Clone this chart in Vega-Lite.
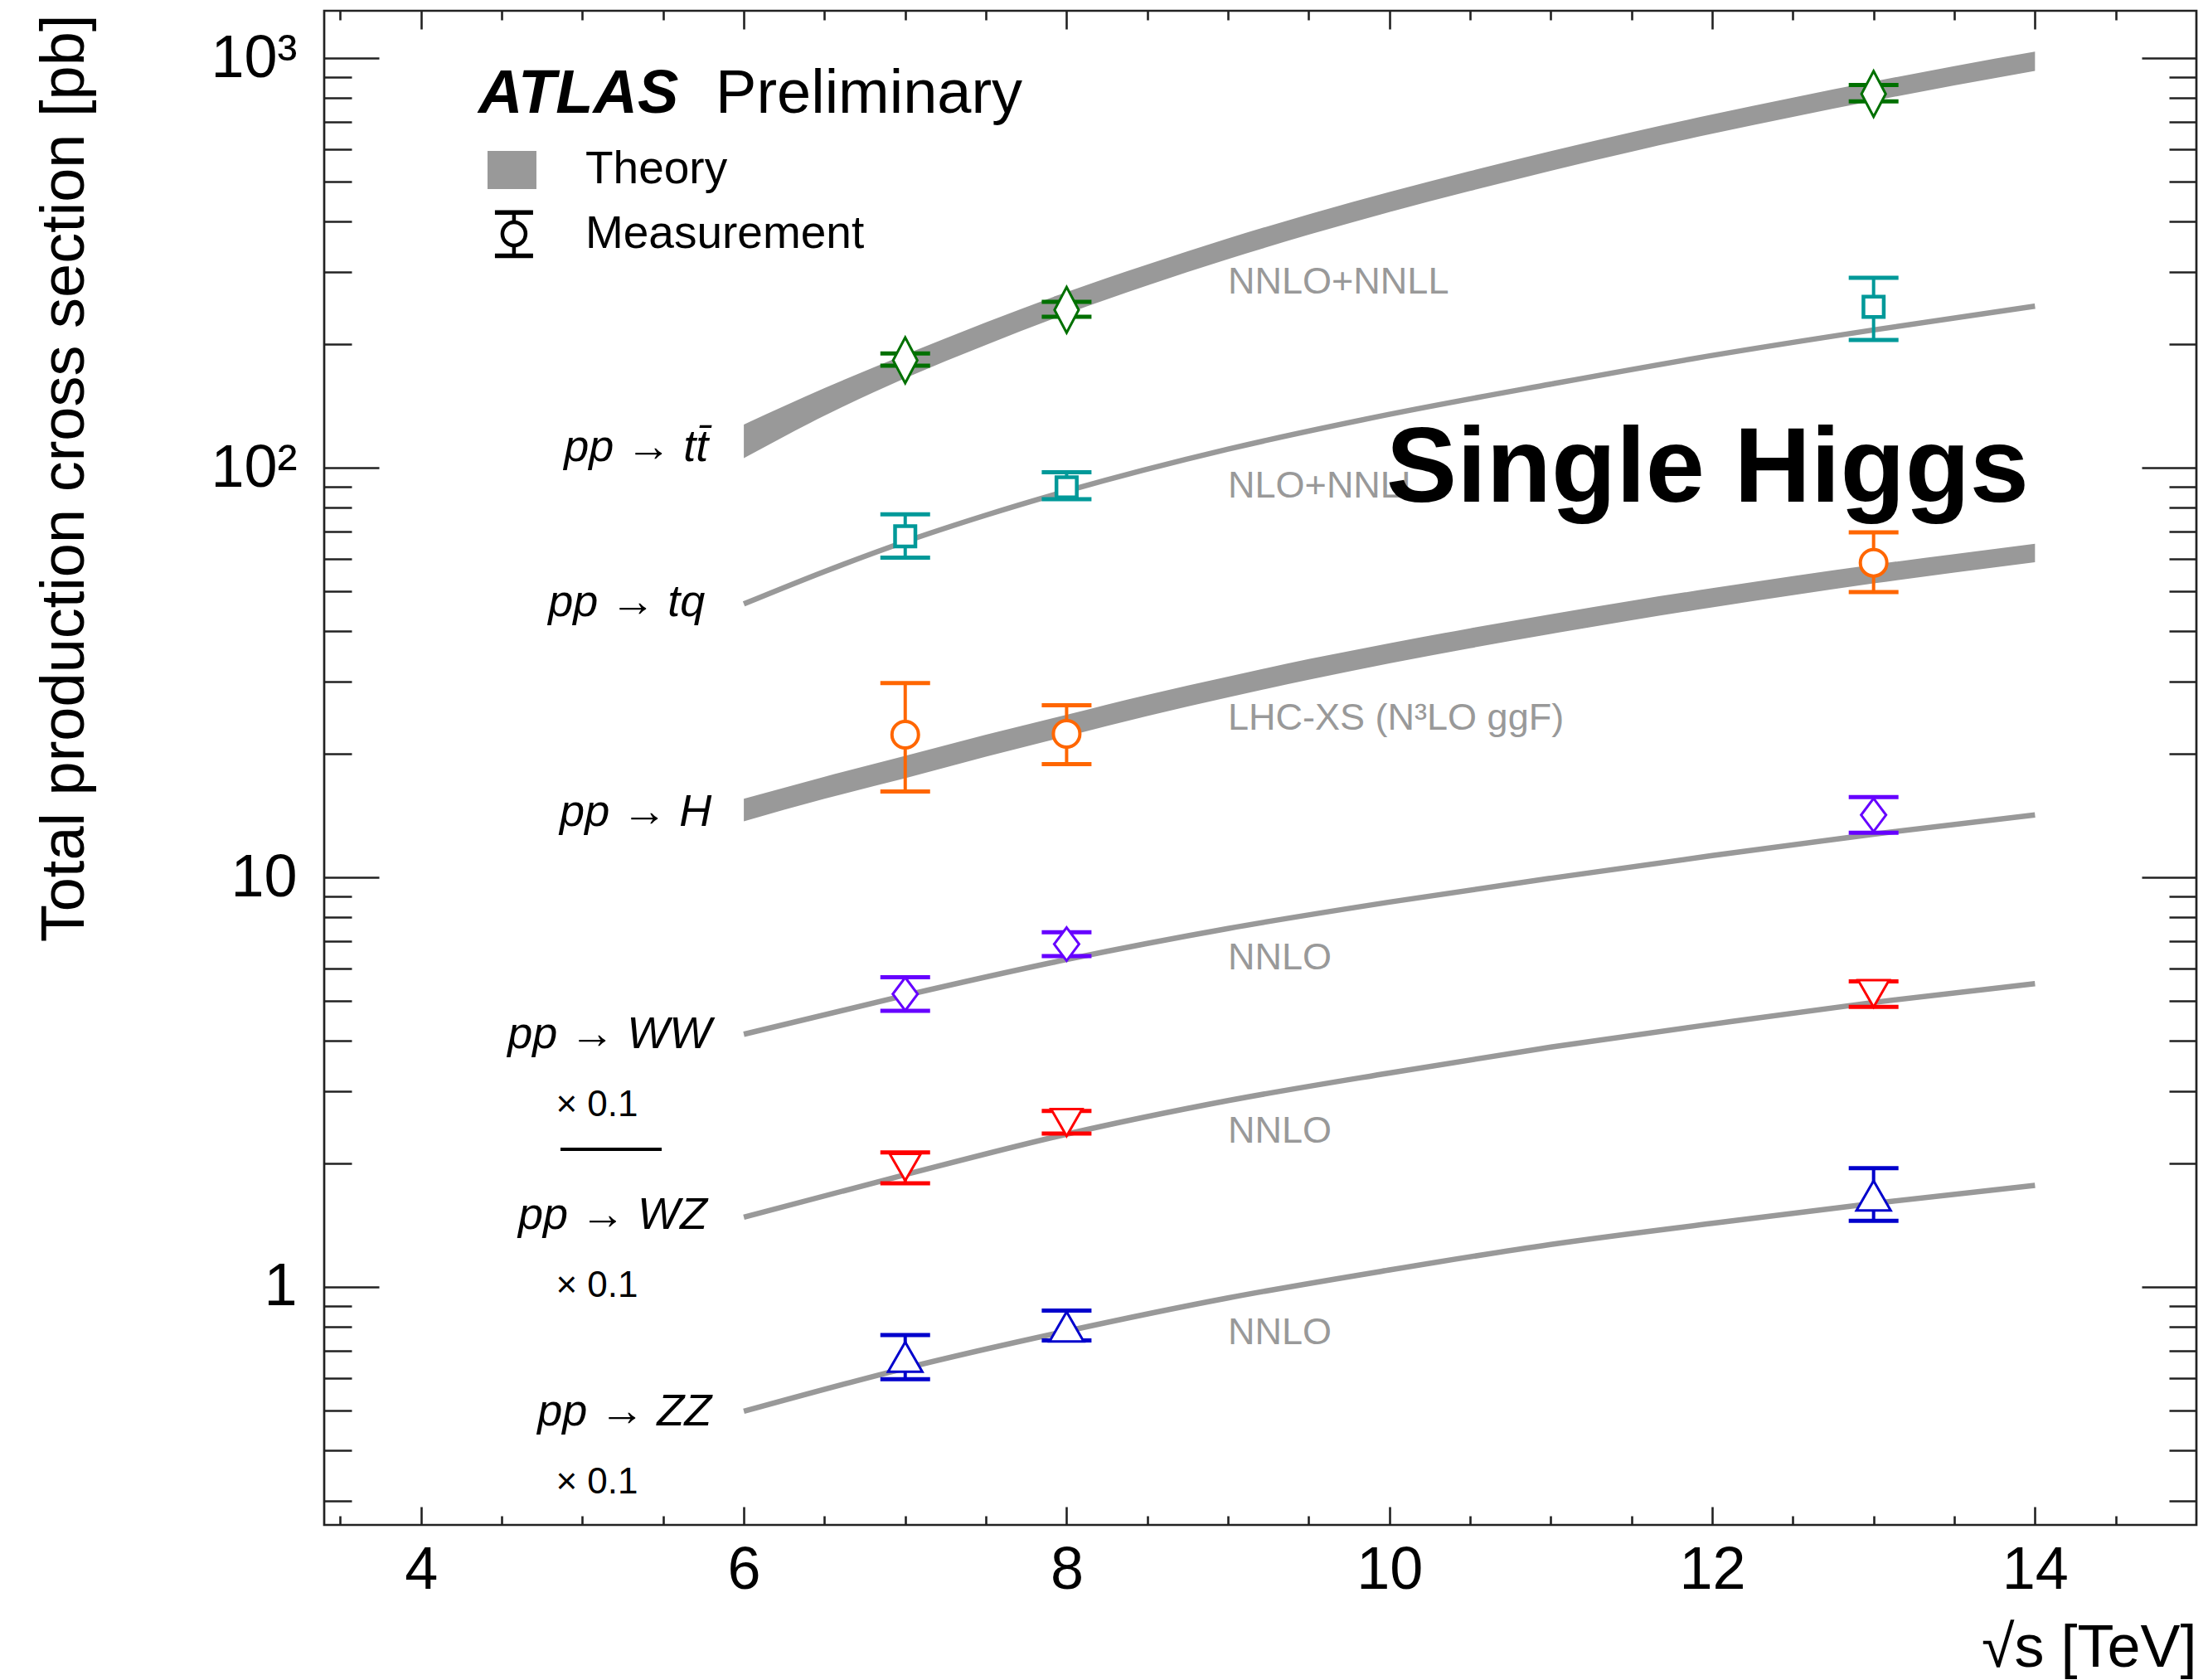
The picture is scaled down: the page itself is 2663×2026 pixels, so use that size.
{
  "$schema": "https://vega.github.io/schema/vega-lite/v6.json",
  "width": 2258,
  "height": 1826,
  "autosize": "none",
  "padding": {"left": 391, "top": 13, "right": 14, "bottom": 187},
  "background": "white",
  "config": {
    "font": "Liberation Sans",
    "view": {"stroke": "#222222", "strokeWidth": 2.7},
    "axis": {"grid": false, "domain": false, "tickColor": "#222222", "tickWidth": 2.6, "labelColor": "#000000", "titleColor": "#000000", "labelFont": "Liberation Sans", "titleFont": "Liberation Sans"}
  },
  "datasets": {
    "theory": [
      {"proc": "ttbar", "kind": "band", "x": 6, "y": 116, "lo": 105.5, "hi": 127.5},
      {"proc": "ttbar", "kind": "band", "x": 6.5, "y": 145, "lo": 134, "hi": 156.5},
      {"proc": "ttbar", "kind": "band", "x": 7, "y": 177, "lo": 165.5, "hi": 189},
      {"proc": "ttbar", "kind": "band", "x": 7.5, "y": 213, "lo": 199.5, "hi": 226.5},
      {"proc": "ttbar", "kind": "band", "x": 8, "y": 253, "lo": 237.5, "hi": 268.5},
      {"proc": "ttbar", "kind": "band", "x": 8.5, "y": 296, "lo": 278.5, "hi": 313.5},
      {"proc": "ttbar", "kind": "band", "x": 9, "y": 343, "lo": 323, "hi": 363},
      {"proc": "ttbar", "kind": "band", "x": 9.5, "y": 393, "lo": 370.5, "hi": 415.5},
      {"proc": "ttbar", "kind": "band", "x": 10, "y": 446, "lo": 421, "hi": 471},
      {"proc": "ttbar", "kind": "band", "x": 10.5, "y": 502, "lo": 474, "hi": 530},
      {"proc": "ttbar", "kind": "band", "x": 11, "y": 562, "lo": 531, "hi": 593},
      {"proc": "ttbar", "kind": "band", "x": 11.5, "y": 625, "lo": 591, "hi": 659},
      {"proc": "ttbar", "kind": "band", "x": 12, "y": 691, "lo": 653.5, "hi": 728.5},
      {"proc": "ttbar", "kind": "band", "x": 12.5, "y": 760, "lo": 719, "hi": 801},
      {"proc": "ttbar", "kind": "band", "x": 13, "y": 832, "lo": 787, "hi": 877},
      {"proc": "ttbar", "kind": "band", "x": 13.5, "y": 907, "lo": 858, "hi": 956},
      {"proc": "ttbar", "kind": "band", "x": 14, "y": 984, "lo": 931, "hi": 1037},
      {"proc": "H", "kind": "band", "x": 6, "y": 14.6, "lo": 13.7, "hi": 15.55},
      {"proc": "H", "kind": "band", "x": 6.5, "y": 16.55, "lo": 15.55, "hi": 17.6},
      {"proc": "H", "kind": "band", "x": 7, "y": 18.6, "lo": 17.45, "hi": 19.8},
      {"proc": "H", "kind": "band", "x": 7.5, "y": 21.0, "lo": 19.7, "hi": 22.3},
      {"proc": "H", "kind": "band", "x": 8, "y": 23.5, "lo": 22.1, "hi": 24.95},
      {"proc": "H", "kind": "band", "x": 8.5, "y": 26.3, "lo": 24.75, "hi": 27.9},
      {"proc": "H", "kind": "band", "x": 9, "y": 29.2, "lo": 27.5, "hi": 30.9},
      {"proc": "H", "kind": "band", "x": 9.5, "y": 32.2, "lo": 30.35, "hi": 34.1},
      {"proc": "H", "kind": "band", "x": 10, "y": 35.3, "lo": 33.3, "hi": 37.3},
      {"proc": "H", "kind": "band", "x": 10.5, "y": 38.4, "lo": 36.25, "hi": 40.55},
      {"proc": "H", "kind": "band", "x": 11, "y": 41.6, "lo": 39.3, "hi": 43.9},
      {"proc": "H", "kind": "band", "x": 11.5, "y": 44.9, "lo": 42.45, "hi": 47.35},
      {"proc": "H", "kind": "band", "x": 12, "y": 48.2, "lo": 45.6, "hi": 50.8},
      {"proc": "H", "kind": "band", "x": 12.5, "y": 51.6, "lo": 48.85, "hi": 54.35},
      {"proc": "H", "kind": "band", "x": 13, "y": 55.1, "lo": 52.2, "hi": 58.0},
      {"proc": "H", "kind": "band", "x": 13.5, "y": 58.5, "lo": 55.45, "hi": 61.55},
      {"proc": "H", "kind": "band", "x": 14, "y": 62.0, "lo": 58.8, "hi": 65.2},
      {"proc": "tq", "kind": "line", "x": 6, "y": 46.5},
      {"proc": "tq", "kind": "line", "x": 6.5, "y": 55.8},
      {"proc": "tq", "kind": "line", "x": 7, "y": 66},
      {"proc": "tq", "kind": "line", "x": 7.5, "y": 76.6},
      {"proc": "tq", "kind": "line", "x": 8, "y": 87.7},
      {"proc": "tq", "kind": "line", "x": 9, "y": 111},
      {"proc": "tq", "kind": "line", "x": 10, "y": 135},
      {"proc": "tq", "kind": "line", "x": 11, "y": 160},
      {"proc": "tq", "kind": "line", "x": 12, "y": 188},
      {"proc": "tq", "kind": "line", "x": 13, "y": 217},
      {"proc": "tq", "kind": "line", "x": 14, "y": 248},
      {"proc": "WW", "kind": "line", "x": 6, "y": 4.14},
      {"proc": "WW", "kind": "line", "x": 7, "y": 5.15},
      {"proc": "WW", "kind": "line", "x": 8, "y": 6.3},
      {"proc": "WW", "kind": "line", "x": 9, "y": 7.5},
      {"proc": "WW", "kind": "line", "x": 10, "y": 8.7},
      {"proc": "WW", "kind": "line", "x": 11, "y": 9.95},
      {"proc": "WW", "kind": "line", "x": 12, "y": 11.3},
      {"proc": "WW", "kind": "line", "x": 13, "y": 12.75},
      {"proc": "WW", "kind": "line", "x": 14, "y": 14.2},
      {"proc": "WZ", "kind": "line", "x": 6, "y": 1.48},
      {"proc": "WZ", "kind": "line", "x": 7, "y": 1.88},
      {"proc": "WZ", "kind": "line", "x": 8, "y": 2.36},
      {"proc": "WZ", "kind": "line", "x": 9, "y": 2.85},
      {"proc": "WZ", "kind": "line", "x": 10, "y": 3.33},
      {"proc": "WZ", "kind": "line", "x": 11, "y": 3.85},
      {"proc": "WZ", "kind": "line", "x": 12, "y": 4.38},
      {"proc": "WZ", "kind": "line", "x": 13, "y": 4.95},
      {"proc": "WZ", "kind": "line", "x": 14, "y": 5.5},
      {"proc": "ZZ", "kind": "line", "x": 6, "y": 0.497},
      {"proc": "ZZ", "kind": "line", "x": 7, "y": 0.633},
      {"proc": "ZZ", "kind": "line", "x": 8, "y": 0.78},
      {"proc": "ZZ", "kind": "line", "x": 9, "y": 0.94},
      {"proc": "ZZ", "kind": "line", "x": 10, "y": 1.1},
      {"proc": "ZZ", "kind": "line", "x": 11, "y": 1.27},
      {"proc": "ZZ", "kind": "line", "x": 12, "y": 1.43},
      {"proc": "ZZ", "kind": "line", "x": 13, "y": 1.6},
      {"proc": "ZZ", "kind": "line", "x": 14, "y": 1.77}
    ],
    "meas": [
      {"proc": "ttbar", "x": 7, "y": 182.9, "lo": 177.5, "hi": 190},
      {"proc": "ttbar", "x": 8, "y": 242.9, "lo": 233.7, "hi": 254},
      {"proc": "ttbar", "x": 13, "y": 818, "lo": 784, "hi": 860},
      {"proc": "tq", "x": 7, "y": 68, "lo": 60.3, "hi": 77},
      {"proc": "tq", "x": 8, "y": 89.6, "lo": 83.8, "hi": 97.5},
      {"proc": "tq", "x": 13, "y": 247, "lo": 205, "hi": 291},
      {"proc": "H", "x": 7, "y": 22.3, "lo": 16.2, "hi": 29.8},
      {"proc": "H", "x": 8, "y": 22.4, "lo": 18.9, "hi": 26.3},
      {"proc": "H", "x": 13, "y": 58.6, "lo": 49.7, "hi": 69.5},
      {"proc": "WW", "x": 7, "y": 5.19, "lo": 4.72, "hi": 5.7},
      {"proc": "WW", "x": 8, "y": 6.87, "lo": 6.42, "hi": 7.34},
      {"proc": "WW", "x": 13, "y": 14.2, "lo": 12.85, "hi": 15.7},
      {"proc": "WZ", "x": 7, "y": 1.96, "lo": 1.79, "hi": 2.13},
      {"proc": "WZ", "x": 8, "y": 2.52, "lo": 2.37, "hi": 2.69},
      {"proc": "WZ", "x": 13, "y": 5.2, "lo": 4.83, "hi": 5.57},
      {"proc": "ZZ", "x": 7, "y": 0.675, "lo": 0.595, "hi": 0.763},
      {"proc": "ZZ", "x": 8, "y": 0.8, "lo": 0.74, "hi": 0.876},
      {"proc": "ZZ", "x": 13, "y": 1.67, "lo": 1.45, "hi": 1.95}
    ]
  },
  "resolve": {"axis": {"x": "independent", "y": "independent"}},
  "layer": [
    {
      "data": {"name": "theory"},
      "transform": [{"filter": "datum.kind === 'band'"}],
      "mark": {"type": "area", "color": "#999999", "opacity": 1, "interpolate": "monotone"},
      "encoding": {
        "x": {"field": "x", "type": "quantitative", "scale": {"domain": [3.4, 15], "nice": false, "zero": false},
          "axis": {"orient": "bottom", "values": [4, 6, 8, 10, 12, 14], "ticks": false, "labels": true, "labelFontSize": 72, "labelPadding": 19, "labelBaseline": "top", "labelFlush": false, "labelOverlap": false, "format": "d",
            "title": "√s [TeV]", "titleFontSize": 72, "titleFontWeight": "normal", "titleAlign": "right", "titleAnchor": "end", "titleBaseline": "alphabetic", "titleX": 2258, "titleY": 170}},
        "y": {"field": "lo", "type": "quantitative", "scale": {"type": "log", "domain": [0.2624, 1305], "nice": false},
          "axis": {"orient": "left", "values": [1, 10, 100, 1000], "ticks": false, "labelFontSize": 72, "labelPadding": 33, "labelFlush": false, "labelOverlap": false,
            "labelExpr": "datum.value >= 999 ? '10³' : datum.value >= 99 ? '10²' : datum.value >= 9 ? '10' : '1'",
            "title": "Total production cross section [pb]", "titleFontSize": 74, "titleFontWeight": "normal", "titleAngle": 270, "titleAlign": "right", "titleBaseline": "alphabetic", "titleX": -291, "titleY": 4}},
        "y2": {"field": "hi"},
        "detail": {"field": "proc", "type": "nominal"}
      }
    },
    {
      "data": {"name": "theory"},
      "transform": [{"filter": "datum.kind === 'line'"}],
      "mark": {"type": "line", "color": "#999999", "strokeWidth": 6.5, "interpolate": "monotone"},
      "encoding": {
        "x": {"field": "x", "type": "quantitative", "scale": {"domain": [3.4, 15], "nice": false, "zero": false},
          "axis": {"orient": "bottom", "values": [4, 6, 8, 10, 12, 14], "tickSize": -22, "labels": false, "title": null}},
        "y": {"field": "y", "type": "quantitative", "scale": {"type": "log", "domain": [0.2624, 1305], "nice": false},
          "axis": {"orient": "left", "values": [1, 10, 100, 1000], "tickSize": -66, "labels": false, "title": null}},
        "detail": {"field": "proc", "type": "nominal"}
      }
    },
    {
      "data": {"name": "meas"},
      "mark": {"type": "rule", "strokeWidth": 4},
      "encoding": {
        "x": {"field": "x", "type": "quantitative", "scale": {"domain": [3.4, 15], "nice": false, "zero": false},
          "axis": {"orient": "bottom", "values": [3.5, 4.5, 5, 5.5, 6.5, 7, 7.5, 8.5, 9, 9.5, 10.5, 11, 11.5, 12.5, 13, 13.5, 14.5], "tickSize": -11, "labels": false, "title": null}},
        "y": {"field": "lo", "type": "quantitative", "scale": {"type": "log", "domain": [0.2624, 1305], "nice": false},
          "axis": {"orient": "left", "values": [0.3, 0.4, 0.5, 0.6, 0.7, 0.8, 0.9, 2, 3, 4, 5, 6, 7, 8, 9, 20, 30, 40, 50, 60, 70, 80, 90, 200, 300, 400, 500, 600, 700, 800, 900], "tickSize": -33, "labels": false, "title": null}},
        "y2": {"field": "hi"},
        "color": {"field": "proc", "type": "nominal", "scale": {"domain": ["ttbar", "tq", "H", "WW", "WZ", "ZZ"], "range": ["#007000", "#009999", "#ff6600", "#6600ff", "#ff0000", "#0000cc"]}, "legend": null}
      }
    },
    {
      "data": {"name": "meas"},
      "mark": {"type": "tick", "orient": "horizontal", "size": 60, "thickness": 5, "opacity": 1},
      "encoding": {
        "x": {"field": "x", "type": "quantitative", "scale": {"domain": [3.4, 15], "nice": false, "zero": false},
          "axis": {"orient": "top", "values": [4, 6, 8, 10, 12, 14], "tickSize": -22, "labels": false, "title": null}},
        "y": {"field": "lo", "type": "quantitative", "scale": {"type": "log", "domain": [0.2624, 1305], "nice": false},
          "axis": {"orient": "right", "values": [1, 10, 100, 1000], "tickSize": -66, "labels": false, "title": null}},
        "color": {"field": "proc", "type": "nominal", "scale": {"domain": ["ttbar", "tq", "H", "WW", "WZ", "ZZ"], "range": ["#007000", "#009999", "#ff6600", "#6600ff", "#ff0000", "#0000cc"]}, "legend": null}
      }
    },
    {
      "data": {"name": "meas"},
      "mark": {"type": "tick", "orient": "horizontal", "size": 60, "thickness": 5, "opacity": 1},
      "encoding": {
        "x": {"field": "x", "type": "quantitative", "scale": {"domain": [3.4, 15], "nice": false, "zero": false},
          "axis": {"orient": "top", "values": [3.5, 4.5, 5, 5.5, 6.5, 7, 7.5, 8.5, 9, 9.5, 10.5, 11, 11.5, 12.5, 13, 13.5, 14.5], "tickSize": -11, "labels": false, "title": null}},
        "y": {"field": "hi", "type": "quantitative", "scale": {"type": "log", "domain": [0.2624, 1305], "nice": false},
          "axis": {"orient": "right", "values": [0.3, 0.4, 0.5, 0.6, 0.7, 0.8, 0.9, 2, 3, 4, 5, 6, 7, 8, 9, 20, 30, 40, 50, 60, 70, 80, 90, 200, 300, 400, 500, 600, 700, 800, 900], "tickSize": -33, "labels": false, "title": null}},
        "color": {"field": "proc", "type": "nominal", "scale": {"domain": ["ttbar", "tq", "H", "WW", "WZ", "ZZ"], "range": ["#007000", "#009999", "#ff6600", "#6600ff", "#ff0000", "#0000cc"]}, "legend": null}
      }
    },
    {
      "data": {"name": "meas"},
      "transform": [{"filter": "datum.proc === 'ttbar'"}],
      "mark": {"type": "point", "shape": "M0,-1L0.53,0L0,1L-0.53,0Z", "size": 3025, "fill": "white", "fillOpacity": 1, "stroke": "#007000", "strokeWidth": 3, "opacity": 1},
      "encoding": {
        "x": {"field": "x", "type": "quantitative", "scale": {"domain": [3.4, 15], "nice": false, "zero": false}, "axis": null},
        "y": {"field": "y", "type": "quantitative", "scale": {"type": "log", "domain": [0.2624, 1305], "nice": false}, "axis": null}
      }
    },
    {
      "data": {"name": "meas"},
      "transform": [{"filter": "datum.proc === 'tq'"}],
      "mark": {"type": "point", "shape": "square", "size": 600, "fill": "white", "fillOpacity": 1, "stroke": "#009999", "strokeWidth": 4.5, "opacity": 1},
      "encoding": {
        "x": {"field": "x", "type": "quantitative", "scale": {"domain": [3.4, 15], "nice": false, "zero": false}, "axis": null},
        "y": {"field": "y", "type": "quantitative", "scale": {"type": "log", "domain": [0.2624, 1305], "nice": false}, "axis": null}
      }
    },
    {
      "data": {"name": "meas"},
      "transform": [{"filter": "datum.proc === 'H'"}],
      "mark": {"type": "point", "shape": "circle", "size": 1024, "fill": "white", "fillOpacity": 1, "stroke": "#ff6600", "strokeWidth": 4, "opacity": 1},
      "encoding": {
        "x": {"field": "x", "type": "quantitative", "scale": {"domain": [3.4, 15], "nice": false, "zero": false}, "axis": null},
        "y": {"field": "y", "type": "quantitative", "scale": {"type": "log", "domain": [0.2624, 1305], "nice": false}, "axis": null}
      }
    },
    {
      "data": {"name": "meas"},
      "transform": [{"filter": "datum.proc === 'WW'"}],
      "mark": {"type": "point", "shape": "M0,-1L0.75,0L0,1L-0.75,0Z", "size": 1600, "fill": "white", "fillOpacity": 1, "stroke": "#6600ff", "strokeWidth": 3, "opacity": 1},
      "encoding": {
        "x": {"field": "x", "type": "quantitative", "scale": {"domain": [3.4, 15], "nice": false, "zero": false}, "axis": null},
        "y": {"field": "y", "type": "quantitative", "scale": {"type": "log", "domain": [0.2624, 1305], "nice": false}, "axis": null}
      }
    },
    {
      "data": {"name": "meas"},
      "transform": [{"filter": "datum.proc === 'WZ'"}],
      "mark": {"type": "point", "shape": "triangle-down", "size": 1400, "fill": "white", "fillOpacity": 1, "stroke": "#ff0000", "strokeWidth": 3, "opacity": 1},
      "encoding": {
        "x": {"field": "x", "type": "quantitative", "scale": {"domain": [3.4, 15], "nice": false, "zero": false}, "axis": null},
        "y": {"field": "y", "type": "quantitative", "scale": {"type": "log", "domain": [0.2624, 1305], "nice": false}, "axis": null}
      }
    },
    {
      "data": {"name": "meas"},
      "transform": [{"filter": "datum.proc === 'ZZ'"}],
      "mark": {"type": "point", "shape": "triangle-up", "size": 1700, "fill": "white", "fillOpacity": 1, "stroke": "#0000cc", "strokeWidth": 3, "opacity": 1},
      "encoding": {
        "x": {"field": "x", "type": "quantitative", "scale": {"domain": [3.4, 15], "nice": false, "zero": false}, "axis": null},
        "y": {"field": "y", "type": "quantitative", "scale": {"type": "log", "domain": [0.2624, 1305], "nice": false}, "axis": null}
      }
    },
    {
      "data": {"values": [
        {"t": "NNLO+NNLL", "x": 9.0, "y": 284},
        {"t": "NLO+NNLL", "x": 9.0, "y": 90.3},
        {"t": "LHC-XS (N³LO ggF)", "x": 9.0, "y": 24.5},
        {"t": "NNLO", "x": 9.0, "y": 6.36},
        {"t": "NNLO", "x": 9.0, "y": 2.40},
        {"t": "NNLO", "x": 9.0, "y": 0.774}
      ]},
      "mark": {"type": "text", "align": "left", "baseline": "middle", "fontSize": 45, "color": "#999999"},
      "encoding": {
        "x": {"field": "x", "type": "quantitative", "scale": {"domain": [3.4, 15], "nice": false, "zero": false}, "axis": null},
        "y": {"field": "y", "type": "quantitative", "scale": {"type": "log", "domain": [0.2624, 1305], "nice": false}, "axis": null},
        "text": {"field": "t"}
      }
    },
    {
      "data": {"values": [
        {"t": "pp → tt̄", "x": 5.78, "y": 111.9},
        {"t": "pp → tq", "x": 5.76, "y": 46.8},
        {"t": "pp → H", "x": 5.8, "y": 14.39},
        {"t": "pp → WW", "x": 5.8, "y": 4.125},
        {"t": "pp → WZ", "x": 5.773, "y": 1.493},
        {"t": "pp → ZZ", "x": 5.8, "y": 0.4944}
      ]},
      "mark": {"type": "text", "align": "right", "baseline": "middle", "fontSize": 54, "fontStyle": "italic", "color": "#000000"},
      "encoding": {
        "x": {"field": "x", "type": "quantitative", "scale": {"domain": [3.4, 15], "nice": false, "zero": false}, "axis": null},
        "y": {"field": "y", "type": "quantitative", "scale": {"type": "log", "domain": [0.2624, 1305], "nice": false}, "axis": null},
        "text": {"field": "t"}
      }
    },
    {
      "data": {"values": [
        {"t": "× 0.1", "x": 5.09, "y": 2.776},
        {"t": "× 0.1", "x": 5.09, "y": 1.004},
        {"t": "× 0.1", "x": 5.09, "y": 0.3327}
      ]},
      "mark": {"type": "text", "align": "center", "baseline": "middle", "fontSize": 44, "color": "#000000"},
      "encoding": {
        "x": {"field": "x", "type": "quantitative", "scale": {"domain": [3.4, 15], "nice": false, "zero": false}, "axis": null},
        "y": {"field": "y", "type": "quantitative", "scale": {"type": "log", "domain": [0.2624, 1305], "nice": false}, "axis": null},
        "text": {"field": "t"}
      }
    },
    {
      "data": {"values": [{}]},
      "mark": {"type": "rule", "color": "#000000", "strokeWidth": 4},
      "encoding": {
        "x": {"datum": 4.864, "type": "quantitative", "scale": {"domain": [3.4, 15], "nice": false, "zero": false}, "axis": null},
        "x2": {"datum": 5.491},
        "y": {"datum": 2.168, "type": "quantitative", "scale": {"type": "log", "domain": [0.2624, 1305], "nice": false}, "axis": null}
      }
    },
    {
      "data": {"values": [{}]},
      "mark": {"type": "text", "text": "ATLAS", "align": "left", "baseline": "alphabetic", "fontSize": 74, "fontWeight": "bold", "fontStyle": "italic", "color": "#000000"},
      "encoding": {
        "x": {"datum": 4.356, "type": "quantitative", "scale": {"domain": [3.4, 15], "nice": false, "zero": false}, "axis": null},
        "y": {"datum": 735.6, "type": "quantitative", "scale": {"type": "log", "domain": [0.2624, 1305], "nice": false}, "axis": null}
      }
    },
    {
      "data": {"values": [{}]},
      "mark": {"type": "text", "text": "Preliminary", "align": "left", "baseline": "alphabetic", "fontSize": 74, "color": "#000000"},
      "encoding": {
        "x": {"datum": 5.825, "type": "quantitative", "scale": {"domain": [3.4, 15], "nice": false, "zero": false}, "axis": null},
        "y": {"datum": 735.6, "type": "quantitative", "scale": {"type": "log", "domain": [0.2624, 1305], "nice": false}, "axis": null}
      }
    },
    {
      "data": {"values": [{}]},
      "mark": {"type": "rect", "color": "#999999", "opacity": 1},
      "encoding": {
        "x": {"datum": 4.412, "type": "quantitative", "scale": {"domain": [3.4, 15], "nice": false, "zero": false}, "axis": null},
        "x2": {"datum": 4.715},
        "y": {"datum": 478.9, "type": "quantitative", "scale": {"type": "log", "domain": [0.2624, 1305], "nice": false}, "axis": null},
        "y2": {"datum": 593.6}
      }
    },
    {
      "data": {"values": [
        {"t": "Theory", "x": 5.018, "y": 535.6},
        {"t": "Measurement", "x": 5.018, "y": 372.4}
      ]},
      "mark": {"type": "text", "align": "left", "baseline": "middle", "fontSize": 55, "color": "#000000"},
      "encoding": {
        "x": {"field": "x", "type": "quantitative", "scale": {"domain": [3.4, 15], "nice": false, "zero": false}, "axis": null},
        "y": {"field": "y", "type": "quantitative", "scale": {"type": "log", "domain": [0.2624, 1305], "nice": false}, "axis": null},
        "text": {"field": "t"}
      }
    },
    {
      "data": {"values": [{}]},
      "mark": {"type": "rule", "color": "#000000", "strokeWidth": 4.5},
      "encoding": {
        "x": {"datum": 4.576, "type": "quantitative", "scale": {"domain": [3.4, 15], "nice": false, "zero": false}, "axis": null},
        "y": {"datum": 329, "type": "quantitative", "scale": {"type": "log", "domain": [0.2624, 1305], "nice": false}, "axis": null},
        "y2": {"datum": 420}
      }
    },
    {
      "data": {"values": [{"y": 329}, {"y": 420}]},
      "mark": {"type": "tick", "orient": "horizontal", "size": 46, "thickness": 5.5, "color": "#000000", "opacity": 1},
      "encoding": {
        "x": {"datum": 4.576, "type": "quantitative", "scale": {"domain": [3.4, 15], "nice": false, "zero": false}, "axis": null},
        "y": {"field": "y", "type": "quantitative", "scale": {"type": "log", "domain": [0.2624, 1305], "nice": false}, "axis": null}
      }
    },
    {
      "data": {"values": [{}]},
      "mark": {"type": "point", "shape": "circle", "size": 784, "fill": "white", "fillOpacity": 1, "stroke": "#000000", "strokeWidth": 4.5, "opacity": 1},
      "encoding": {
        "x": {"datum": 4.576, "type": "quantitative", "scale": {"domain": [3.4, 15], "nice": false, "zero": false}, "axis": null},
        "y": {"datum": 372.4, "type": "quantitative", "scale": {"type": "log", "domain": [0.2624, 1305], "nice": false}, "axis": null}
      }
    },
    {
      "data": {"values": [{}]},
      "mark": {"type": "text", "text": "Single Higgs", "align": "left", "baseline": "alphabetic", "fontSize": 128, "fontWeight": "bold", "color": "#000000"},
      "encoding": {
        "x": {"datum": 9.98, "type": "quantitative", "scale": {"domain": [3.4, 15], "nice": false, "zero": false}, "axis": null},
        "y": {"datum": 82.6, "type": "quantitative", "scale": {"type": "log", "domain": [0.2624, 1305], "nice": false}, "axis": null}
      }
    }
  ]
}
